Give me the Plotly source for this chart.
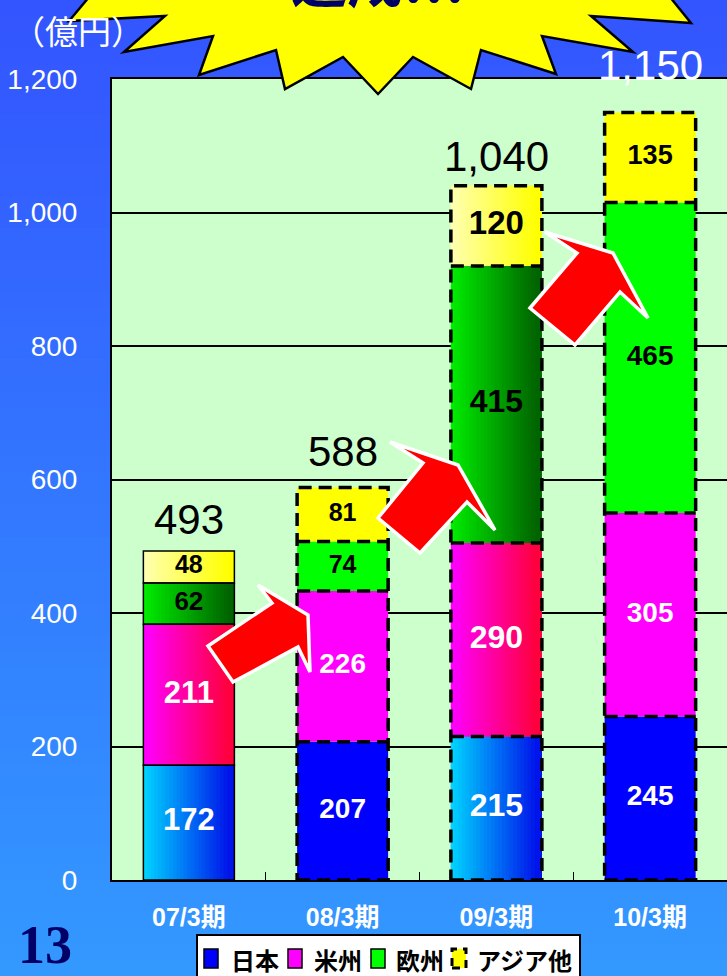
import plotly.graph_objects as go
import numpy as np

# ---------------- data ----------------
categories = ["07/3期", "08/3期", "09/3期", "10/3期"]
series_names = ["日本", "米州", "欧州", "アジア他"]
japan = [172, 207, 215, 245]
americas = [211, 226, 290, 305]
europe = [62, 74, 415, 465]
asia = [48, 81, 120, 135]
totals = [493, 588, 1040, 1150]
total_labels = ["493", "588", "1,040", "1,150"]
y_ticks = [0, 200, 400, 600, 800, 1000, 1200]

series_values = [japan, americas, europe, asia]

# ---------------- styling ----------------
W, H = 727, 976
ML, MR, MT, MB = 112, 0, 79, 96
PW, PH = W - ML - MR, H - MT - MB


def px(x, y):
    """pixel position -> paper coordinates"""
    return (x - ML) / PW, (H - MB - y) / PH


BW = 0.592
gradient_cols = [True, False, True, False]
solid_colors = ["#0000FF", "#FF00FF", "#00FF00", "#FFFF00"]
grad_colors = [((0, 210, 255), (0, 20, 235)),
               ((255, 0, 255), (255, 0, 60)),
               ((0, 235, 0), (0, 100, 0)),
               ((255, 255, 175), (255, 255, 0))]
label_colors = ["white", "white", "black", "black"]
label_sizes = [[31, 28, 32, 28], [31, 28, 32, 28], [26, 25, 32, 28], [25, 25, 33, 27]]
total_yshift = [31, 36, 29, 47]
total_colors = ["black", "black", "black", "white"]
N_STRIPS = 24
NUM_FONT = "Liberation Sans, Arial, sans-serif"
CJK_FONT = "Noto Sans CJK JP, sans-serif"
DASH = "13px,7px"

vals = np.array(series_values, dtype=float)
bases = np.vstack([np.zeros(len(categories)), np.cumsum(vals, axis=0)[:-1]])

fig = go.Figure()

# main stacked bars (solid colours)
for s, name in enumerate(series_names):
    fig.add_trace(go.Bar(
        x=categories, y=vals[s], base=bases[s], width=BW, name=name,
        marker=dict(color=solid_colors[s], line=dict(width=0)),
        hoverinfo="skip", showlegend=False,
    ))

# gradient overlays for gradient columns (built from same data)
SW = BW / N_STRIPS * 1.8
for s in range(len(series_names)):
    xs, ys, bs, offs, cols = [], [], [], [], []
    c0, c1 = np.array(grad_colors[s][0]), np.array(grad_colors[s][1])
    for i, cat in enumerate(categories):
        if not gradient_cols[i]:
            continue
        for k in range(N_STRIPS):
            t = k / (N_STRIPS - 1)
            c = c0 + (c1 - c0) * t
            xs.append(cat)
            ys.append(vals[s][i])
            bs.append(bases[s][i])
            offs.append(-BW / 2 + k * (BW - SW) / (N_STRIPS - 1))
            cols.append("rgb(%d,%d,%d)" % tuple(c.astype(int)))
    fig.add_trace(go.Bar(
        x=xs, y=ys, base=bs, offset=offs, width=SW,
        marker=dict(color=cols, line=dict(width=0)),
        showlegend=False, hoverinfo="skip",
    ))

# segment value labels
lx, ly, lt, lc, ls = [], [], [], [], []
for s in range(len(series_names)):
    for i, cat in enumerate(categories):
        lx.append(cat)
        ly.append(bases[s][i] + vals[s][i] / 2)
        lt.append(str(series_values[s][i]))
        lc.append(label_colors[s])
        ls.append(label_sizes[s][i])
fig.add_trace(go.Scatter(
    x=lx, y=ly, text=lt, mode="text", textposition="middle center",
    textfont=dict(family=NUM_FONT, size=ls, color=lc, weight="bold"),
    showlegend=False, hoverinfo="skip", cliponaxis=False,
))

shapes = []
# background gradient (whole page)
NB = 60
for k in range(NB):
    t = k / (NB - 1)
    g = int(85 + (153 - 85) * t)
    y0 = H * k / NB
    y1 = H * (k + 1) / NB + 1
    x0p, y0p = px(0, y0)
    x1p, y1p = px(W, y1)
    shapes.append(dict(type="rect", xref="paper", yref="paper", layer="below",
                       x0=x0p, x1=x1p, y0=y1p, y1=y0p,
                       fillcolor="rgb(51,%d,255)" % g, line=dict(width=0)))
# plot area
shapes.append(dict(type="rect", xref="paper", yref="paper", layer="below",
                   x0=0, x1=1, y0=0, y1=1, fillcolor="#CCFFCC", line=dict(width=0)))

# segment outlines (solid for 07, dashed for others)
stack_top = bases[-1] + vals[-1]
for i in range(len(categories)):
    if i == 0:
        for s in range(len(series_names)):
            shapes.append(dict(type="rect", xref="x", yref="y", layer="above",
                               x0=i - BW / 2, x1=i + BW / 2,
                               y0=bases[s][i], y1=bases[s][i] + vals[s][i],
                               fillcolor="rgba(0,0,0,0)",
                               line=dict(color="black", width=1.5)))
    else:
        shapes.append(dict(type="rect", xref="x", yref="y", layer="above",
                           x0=i - BW / 2, x1=i + BW / 2, y0=0, y1=stack_top[i],
                           fillcolor="rgba(0,0,0,0)",
                           line=dict(color="black", width=3.5, dash=DASH)))
        for s in range(1, len(series_names)):
            shapes.append(dict(type="line", xref="x", yref="y", layer="above",
                               x0=i - BW / 2, x1=i + BW / 2,
                               y0=bases[s][i], y1=bases[s][i],
                               line=dict(color="black", width=3.5, dash=DASH)))


def path_from_pixels(pts):
    p = []
    for j, (x, y) in enumerate(pts):
        X, Y = px(x, y)
        p.append(("M" if j == 0 else "L") + "%.5f,%.5f" % (X, Y))
    return " ".join(p) + " Z"


# red arrows
arrows = [
    [(208, 646), (272, 603), (258, 585), (308, 615), (310, 672), (298, 647), (233, 682)],
    [(378, 518), (423, 463), (390, 442), (458, 465), (495, 530), (467, 502), (420, 553)],
    [(530, 308), (577, 253), (545, 232), (613, 253), (648, 318), (620, 292), (575, 345)],
]
for a in arrows:
    shapes.append(dict(type="path", xref="paper", yref="paper", layer="above",
                       path=path_from_pixels(a), fillcolor="#FF0000",
                       line=dict(color="white", width=3.5)))

# starburst
star = [(120, -40), (69, 21), (165, 16), (124, 52), (213, 36), (199, 75), (276, 50),
        (285, 89), (343, 57), (378, 94), (413, 57), (471, 89), (481, 50), (556, 74),
        (542, 36), (633, 52), (591, 16), (691, 23), (640, -40), (378, -80)]
shapes.append(dict(type="path", xref="paper", yref="paper", layer="above",
                   path=path_from_pixels(star), fillcolor="#FFFF00",
                   line=dict(color="black", width=2.5)))

# custom legend (box, icons)
bx0, by0 = px(197, 935)
bx1, by1 = px(580, 985)
shapes.append(dict(type="rect", xref="paper", yref="paper", layer="above",
                   x0=bx0, x1=bx1, y0=by1, y1=by0, fillcolor="white",
                   line=dict(color="black", width=2)))
legend_icon_x = [204, 288, 371, 452]
legend_text_x = [229, 312, 394, 475]
for s in range(len(series_names)):
    ix0, iy0 = px(legend_icon_x[s], 949)
    ix1, iy1 = px(legend_icon_x[s] + 14, 968)
    if s < 3:
        shapes.append(dict(type="rect", xref="paper", yref="paper", layer="above",
                           x0=ix0, x1=ix1, y0=iy1, y1=iy0, fillcolor=solid_colors[s],
                           line=dict(color="black", width=1.5)))
    else:
        shapes.append(dict(type="rect", xref="paper", yref="paper", layer="above",
                           x0=ix0, x1=ix1, y0=iy1, y1=iy0, fillcolor=solid_colors[s],
                           line=dict(color="black", width=3, dash="8px,6px")))

annotations = []
for s in range(len(series_names)):
    tx, ty = px(legend_text_x[s], 959)
    annotations.append(dict(x=tx, y=ty, xref="paper", yref="paper", text=series_names[s],
                            showarrow=False, xanchor="left", yanchor="middle",
                            font=dict(family=CJK_FONT, size=24, color="black", weight="bold")))

for i, cat in enumerate(categories):
    annotations.append(dict(x=cat, y=totals[i], xref="x", yref="y", text=total_labels[i],
                            showarrow=False, yanchor="middle", yshift=total_yshift[i],
                            font=dict(family="Liberation Sans, Arial, sans-serif", size=42,
                                      color=total_colors[i])))
ax, ay = px(78, 30)
annotations.append(dict(x=ax, y=ay, xref="paper", yref="paper", text="（億円）",
                        showarrow=False, xanchor="center", yanchor="middle",
                        font=dict(family=CJK_FONT, size=33, color="white")))
ax, ay = px(378, -22)
annotations.append(dict(x=ax, y=ay, xref="paper", yref="paper", text="達成!!!",
                        showarrow=False, xanchor="center", yanchor="middle",
                        font=dict(family=CJK_FONT, size=56, color="#000066", weight="bold")))
ax, ay = px(45, 945)
annotations.append(dict(x=ax, y=ay, xref="paper", yref="paper", text="13",
                        showarrow=False, xanchor="center", yanchor="middle",
                        font=dict(family="Liberation Serif, Times New Roman, serif", size=54,
                                  color="#000066", weight="bold")))

fig.update_layout(
    width=W, height=H,
    margin=dict(l=ML, r=MR, t=MT, b=MB, pad=0, autoexpand=False),
    barmode="overlay",
    paper_bgcolor="#3377FF",
    plot_bgcolor="rgba(0,0,0,0)",
    shapes=shapes,
    annotations=annotations,
    showlegend=False,
    xaxis=dict(type="category", categoryorder="array", categoryarray=categories,
               range=[-0.5, 3.5], showgrid=False, zeroline=False, automargin=False,
               showline=True, mirror=True, linecolor="black", linewidth=2,
               ticks="inside", tickson="boundaries", ticklen=8, tickcolor="black",
               ticklabelstandoff=14,
               tickfont=dict(family=NUM_FONT + ", Noto Sans CJK JP", size=25,
                             color="white", weight="bold")),
    yaxis=dict(range=[0, 1200], tickvals=y_ticks, tickformat=",", automargin=False,
               showgrid=True, gridcolor="black", gridwidth=1.5, zeroline=False,
               showline=True, linecolor="black", linewidth=2, ticks="",
               ticklabelstandoff=27,
               tickfont=dict(family=NUM_FONT, size=28, color="white")),
)

fig.write_html("out.html", config={"displayModeBar": False},
               post_script="document.body.style.margin='0';document.body.style.padding='0';")
